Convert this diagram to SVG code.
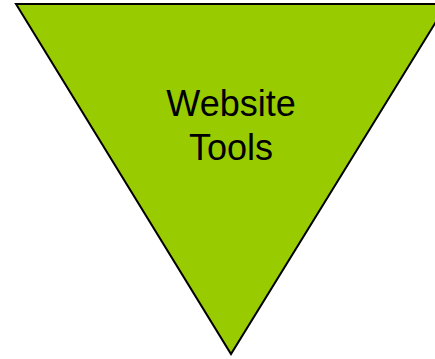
<svg xmlns="http://www.w3.org/2000/svg" width="435" height="359" viewBox="0 0 435 359">
<style>
.tri{fill:#99cc00;stroke:#000;stroke-width:2;stroke-linejoin:miter}
.lbl{font-family:"Liberation Sans",Arial,sans-serif;font-size:36px;fill:#000;text-anchor:middle}
</style>
<rect width="435" height="359" fill="#fff"/>
<g id="website-tools">
<polygon class="tri" points="16,4 447,4 231,354"/>
<text class="lbl" x="231" y="116">Website</text>
<text class="lbl" x="231" y="160">Tools</text>
</g>
</svg>
